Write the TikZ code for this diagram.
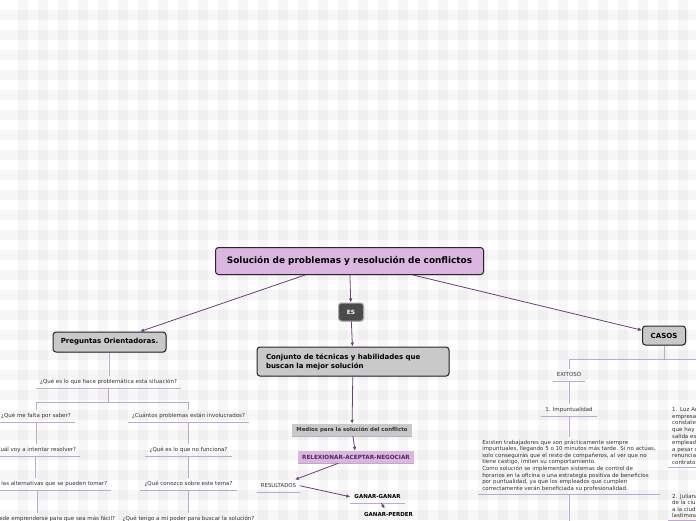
\documentclass[tikz,border=0pt]{standalone}
\usepackage{fontspec}
\setmainfont{DejaVu Sans}
\usepackage{xcolor}
\usepackage{tikz}
\usetikzlibrary{arrows.meta,shadows}
\definecolor{MapLilac}{HTML}{DAB6E1}
\definecolor{MapInk}{HTML}{2E2231}
\definecolor{MapGray}{HTML}{C9C9C9}
\definecolor{MapDark}{HTML}{4B4B4B}
\definecolor{MapArrow}{HTML}{6B3F7C}
\definecolor{MapLine}{HTML}{BFA8CE}
\definecolor{MapText}{HTML}{333333}
\definecolor{MapPlum}{HTML}{4A2A58}

\begin{document}
\begin{tikzpicture}[x=1pt,y=-1pt,
  mapbox/.style={draw=MapInk, line width=1pt, rounded corners=3pt, inner sep=0pt,
    drop shadow={opacity=0.3, shadow xshift=0.8pt, shadow yshift=-0.8pt}},
  titlebox/.style={mapbox, fill=MapLilac, font=\fontsize{8.9}{10}\selectfont\bfseries},
  graybox/.style={mapbox, fill=MapGray, font=\fontsize{7}{9}\selectfont\bfseries},
  esbox/.style={mapbox, draw=gray!70, fill=MapDark, text=white, font=\fontsize{5.8}{6}\selectfont\bfseries},
  flatbox/.style={inner sep=0pt, font=\fontsize{5.4}{6}\selectfont\bfseries},
  topic/.style={anchor=south, inner xsep=4pt, inner ysep=3.3pt, text=MapText,
    text height=4.1pt, text depth=1.3pt, font=\fontsize{5.5}{6.6}\selectfont},
  note/.style={inner xsep=4pt, inner ysep=2.3pt, align=left, text=MapText,
    font=\fontsize{5.5}{6.6}\selectfont},
  arrow/.style={draw=MapArrow, line width=0.8pt, -{Latex[length=4pt,width=3.6pt]}},
  treeline/.style={draw=MapLine, line width=0.8pt}]
  \useasboundingbox (0,0) rectangle (696,520);
  \clip (0,0) rectangle (696,520);
  % gingham background
  \fill[white] (0,0) rectangle (696,520);
  \foreach \x in {18,38,...,696} \fill[black, opacity=0.03] (\x,0) rectangle ++(10,520);
  \foreach \y in {10,30,...,520} \fill[black, opacity=0.03] (0,\y) rectangle ++(696,10);

  % main boxes
  \node[titlebox, minimum width=268, minimum height=27] (title) at (349.5,261) {Solución de problemas y resolución de conflictos};
  \node[esbox, minimum width=25, minimum height=18] (es) at (351,312) {ES};
  \node[graybox, minimum width=113, minimum height=20] (preg) at (109.5,342) {Preguntas Orientadoras.};
  \node[graybox, minimum width=43, minimum height=19] (casos) at (664,335.5) {CASOS};
  \node[graybox, inner xsep=9pt, text width=174pt, align=left, minimum height=29] (conj) at (353,361.5) {Conjunto de técnicas y habilidades que\\buscan la mejor solución};
  \node[flatbox, fill=MapGray, text=MapText, minimum width=120, minimum height=12] (medios) at (352,430) {Medios para la solución del conflicto};
  \node[flatbox, fill=MapLilac, text=MapPlum, font=\fontsize{5.7}{6}\selectfont\bfseries, minimum width=116, minimum height=12] (relex) at (356,457) {RELEXIONAR-ACEPTAR-NEGOCIAR};
  \node[topic, font=\fontsize{5.4}{6}\selectfont] (res) at (278.5,492) {RESULTADOS};
  \node[topic, text=black, font=\fontsize{5.5}{6}\selectfont\bfseries] (gg) at (377.5,503) {GANAR-GANAR};
  \node[topic, text=black, font=\fontsize{5.5}{6}\selectfont\bfseries] (gp) at (388.5,521) {GANAR-PERDER};

  % preguntas
  \node[topic] (q0) at (108.5,388) {¿Qué es lo que hace problemática esta situación?};
  \node[topic] (q1) at (36,422) {¿Qué me falta por saber?};
  \node[topic] (q2) at (188.5,422) {¿Cuántos problemas están involucrados?};
  \node[topic] (q3) at (35,456.5) {¿Cuál voy a intentar resolver?};
  \node[topic] (q4) at (188.5,456.5) {¿Qué es lo que no funciona?};
  \node[topic] (q5) at (37,490.5) {¿Cuáles son las alternativas que se pueden tomar?};
  \node[topic] (q6) at (188.5,490.5) {¿Qué conozco sobre este tema?};
  \node[topic] (q7) at (36,525) {¿Qué acción puede emprenderse para que sea más fácil?};
  \node[topic] (q8) at (188.5,525) {¿Qué tengo a mi poder para buscar la solución?};

  % casos
  \node[topic] (ex) at (569,381) {EXITOSO};
  \node[topic] (imp) at (569,416) {1. Impuntualidad};
  \node[note, anchor=south] (para) at (569,494) {Existen trabajadores que son prácticamente siempre\\
    impuntuales, llegando 5 o 10 minutos más tarde. Si no actúas,\\
    solo conseguirás que el resto de compañeros, al ver que no\\
    tiene castigo, imiten su comportamiento.\\
    Como solución se implementan sistemas de control de\\
    horarios en la oficina o una estrategia positiva de beneficios\\
    por puntualidad, ya que los empleados que cumplen\\
    correctamente verán beneficiada su profesionalidad.};
  \node[note, anchor=south west, text width=60pt] (luz) at (668,467) {1. Luz An\\empresa\\constate\\que hay\\salida es\\empleado\\a pesar c\\renuncia\\contrato.};
  \node[note, anchor=north west, text width=60pt] (jul) at (668,491.5) {2. Juliana\\de la ciu\\a la ciud\\lastimosa};

  % underlines
  \foreach \n in {q0,q1,q2,q3,q4,q5,q6,q7,q8,res,gg,gp,medios,relex,ex,imp,para,luz,jul}
    \draw[treeline] (\n.south west) -- (\n.south east);

  % tree connectors
  \draw[treeline] (preg.south) -- (preg.south |- q0.north);
  \coordinate (qj) at ([yshift=-14pt]q0.south);
  \draw[treeline] (q0.south) -- (qj);
  \draw[treeline] (qj) -| (q1.north);
  \draw[treeline] (qj) -| (q2.north);
  \foreach \a/\b in {q1/q3,q3/q5,q5/q7,q2/q4,q4/q6,q6/q8,ex/imp,imp/para}
    \draw[treeline] (\a.south) -- (\a.south |- \b.north);
  \coordinate (cj) at ([yshift=-13.5pt]casos.south);
  \coordinate (cend) at (700,359);
  \coordinate (pend) at (569,525);
  \draw[treeline] (casos.south) -- (cj);
  \draw[treeline] (ex.north) |- (cend);
  \draw[treeline] (para.south -| imp.south) -- (pend);

  % arrows
  \draw[arrow] (title) -- (es);
  \draw[arrow] ([xshift=-44.5pt]title.south) -- (preg);
  \draw[arrow] ([xshift=63.5pt]title.south) -- (casos);
  \draw[arrow] (es) -- (conj);
  \draw[arrow] (conj) -- (medios);
  \draw[arrow] (medios) -- (relex);
  \draw[arrow] ([xshift=-17.5pt]relex.south) -- (res);
  \draw[arrow] (res.east) -- (gg.west);
  \draw[arrow] (gg) -- (gp);
\end{tikzpicture}
\end{document}
